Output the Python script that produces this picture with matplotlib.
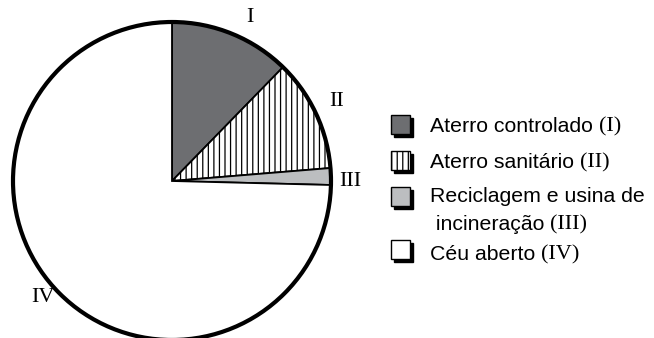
import matplotlib.pyplot as plt
from matplotlib.patches import Circle, Rectangle

# dados
names = ["Aterro controlado", "Aterro sanitário", "Reciclagem e usina de", "Céu aberto"]
extra_line = " incineração"   # segunda linha da entrada III
numerals = ["I", "II", "III", "IV"]
values = [12.3, 11.4, 1.7, 74.6]
colors = ["#6d6e71", "white", "#bcbec0", "white"]
hatches = [None, "|||", None, None]

W, H = 654, 338
fig = plt.figure(figsize=(W / 100, H / 100), dpi=100)
ax = fig.add_axes([0, 0, 1, 1])

plt.rcParams["hatch.linewidth"] = 0.9
cx, cy, r = 172, H - 181, 159
wedges, _ = ax.pie(values, colors=colors, startangle=90, counterclock=False,
                   center=(cx, cy), radius=r,
                   wedgeprops=dict(edgecolor="black", linewidth=1.3))
for w, h in zip(wedges, hatches):
    if h:
        w.set_hatch(h)
ax.add_patch(Circle((cx, cy), r, fill=False, edgecolor="black", linewidth=3, zorder=5))

ax.set_xlim(0, W)
ax.set_ylim(0, H)
ax.set_aspect("equal")
ax.axis("off")

serif = "Liberation Serif"
sans = "Liberation Sans"
fs_sans, fs_serif = 15.3, 16

# rótulos romanos em volta da pizza
label_pos = [(250, 18), (337, 102), (350, 181), (43, 298)]
for lab, (x, y) in zip(numerals, label_pos):
    ax.text(x, H - y, lab, family=serif, fontsize=fs_serif, ha="center", va="center")

# legenda manual
sq = 19
box_y = [124, 160, 196, 249]
text_y = [127, 163, 197, 255]
renderer = fig.canvas.get_renderer()
for i in range(4):
    x0, yc = 391, box_y[i]
    ax.add_patch(Rectangle((x0 + 3, H - yc - sq / 2 - 3), sq, sq, facecolor="black",
                           edgecolor="black", linewidth=1, zorder=3))
    ax.add_patch(Rectangle((x0, H - yc - sq / 2), sq, sq, facecolor=colors[i],
                           edgecolor="black", linewidth=1, hatch=hatches[i], zorder=4))
    t = ax.text(430, H - text_y[i], names[i] + " ", family=sans, fontsize=fs_sans,
                ha="left", va="center")
    ny = H - text_y[i]
    if i == 2:
        t = ax.text(430, H - 225, extra_line + " ", family=sans, fontsize=fs_sans,
                    ha="left", va="center")
        ny = H - 225
    bb = t.get_window_extent(renderer)
    ax.text(bb.x1, ny, "(" + numerals[i] + ")", family=serif, fontsize=fs_serif,
            ha="left", va="center")

fig.savefig("out.png", dpi=100)
